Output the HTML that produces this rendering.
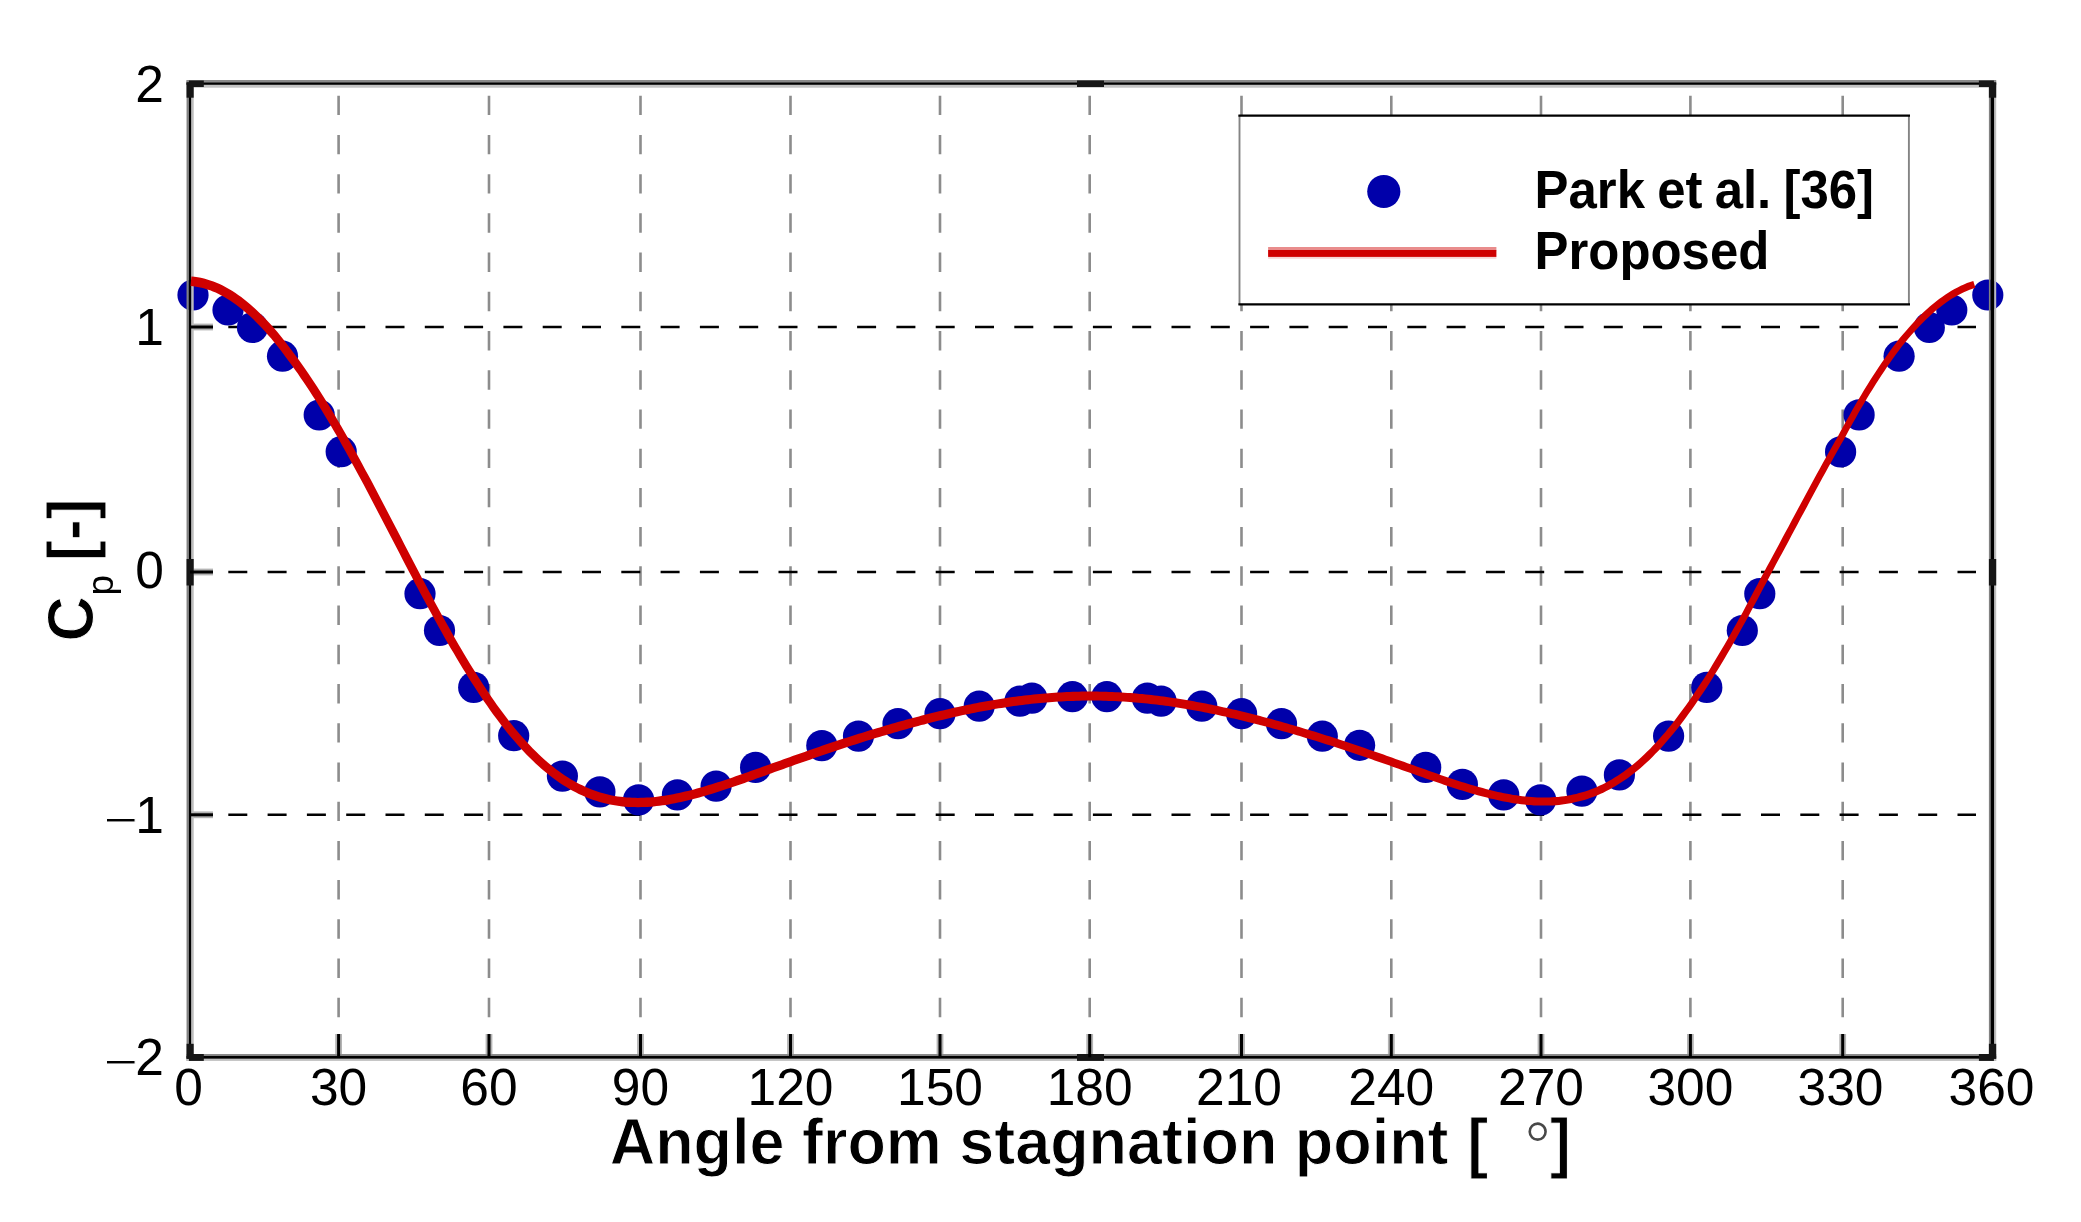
<!DOCTYPE html>
<html lang="en"><head><meta charset="utf-8"><title>Cp vs angle from stagnation point</title>
<style>html,body{margin:0;padding:0;background:#fff}svg{display:block;filter:blur(0.55px)}text{font-family:"Liberation Sans",sans-serif;fill:#000}.b{font-weight:bold}.t{stroke:#fff;stroke-width:1px}.deg{font-family:"DejaVu Sans Light","DejaVu Sans",sans-serif;font-weight:200}</style></head><body>
<svg width="2081" height="1222" viewBox="0 0 2081 1222">
<rect width="2081" height="1222" fill="#fff"/>
<g stroke="#8c8c8c" stroke-width="2.6" stroke-dasharray="19.4 19.82" fill="none">
<line x1="338.6" y1="95.7" x2="338.6" y2="1057.3"/>
<line x1="489.0" y1="95.7" x2="489.0" y2="1057.3"/>
<line x1="640.5" y1="95.7" x2="640.5" y2="1057.3"/>
<line x1="790.5" y1="95.7" x2="790.5" y2="1057.3"/>
<line x1="940.0" y1="95.7" x2="940.0" y2="1057.3"/>
<line x1="1089.7" y1="95.7" x2="1089.7" y2="1057.3"/>
<line x1="1241.5" y1="95.7" x2="1241.5" y2="1057.3"/>
<line x1="1391.3" y1="95.7" x2="1391.3" y2="1057.3"/>
<line x1="1541.0" y1="95.7" x2="1541.0" y2="1057.3"/>
<line x1="1690.4" y1="95.7" x2="1690.4" y2="1057.3"/>
<line x1="1842.7" y1="95.7" x2="1842.7" y2="1057.3"/>
</g>
<g stroke="#000" stroke-width="2.6" stroke-dasharray="19 20.3" fill="none">
<line x1="189" y1="327.0" x2="1976" y2="327.0"/>
<line x1="189" y1="572.0" x2="1976" y2="572.0"/>
<line x1="189" y1="814.8" x2="1976" y2="814.8"/>
</g>
<g fill="#0000aa">
<circle cx="193.0" cy="295.0" r="15.6"/>
<circle cx="228.0" cy="310.0" r="15.6"/>
<circle cx="252.5" cy="327.5" r="15.6"/>
<circle cx="282.5" cy="356.2" r="15.6"/>
<circle cx="319.2" cy="415.0" r="15.6"/>
<circle cx="341.2" cy="451.7" r="15.6"/>
<circle cx="420.0" cy="593.7" r="15.6"/>
<circle cx="439.5" cy="630.5" r="15.6"/>
<circle cx="473.7" cy="687.4" r="15.6"/>
<circle cx="513.7" cy="735.7" r="15.6"/>
<circle cx="562.4" cy="776.1" r="15.6"/>
<circle cx="599.9" cy="791.9" r="15.6"/>
<circle cx="638.6" cy="799.9" r="15.6"/>
<circle cx="677.4" cy="794.9" r="15.6"/>
<circle cx="716.1" cy="786.1" r="15.6"/>
<circle cx="755.6" cy="767.4" r="15.6"/>
<circle cx="821.8" cy="745.6" r="15.6"/>
<circle cx="858.5" cy="736.1" r="15.6"/>
<circle cx="898.0" cy="723.7" r="15.6"/>
<circle cx="940.0" cy="713.7" r="15.6"/>
<circle cx="979.2" cy="706.2" r="15.6"/>
<circle cx="1019.9" cy="701.2" r="15.6"/>
<circle cx="1031.9" cy="698.2" r="15.6"/>
<circle cx="1072.4" cy="696.7" r="15.6"/>
<circle cx="1106.9" cy="696.7" r="15.6"/>
<circle cx="1147.4" cy="698.2" r="15.6"/>
<circle cx="1161.1" cy="701.2" r="15.6"/>
<circle cx="1201.8" cy="706.2" r="15.6"/>
<circle cx="1241.6" cy="713.7" r="15.6"/>
<circle cx="1281.5" cy="723.7" r="15.6"/>
<circle cx="1322.3" cy="736.2" r="15.6"/>
<circle cx="1359.6" cy="745.3" r="15.6"/>
<circle cx="1425.7" cy="767.4" r="15.6"/>
<circle cx="1462.4" cy="784.4" r="15.6"/>
<circle cx="1503.7" cy="794.9" r="15.6"/>
<circle cx="1540.6" cy="799.9" r="15.6"/>
<circle cx="1581.9" cy="791.1" r="15.6"/>
<circle cx="1619.4" cy="774.9" r="15.6"/>
<circle cx="1668.6" cy="736.1" r="15.6"/>
<circle cx="1706.8" cy="687.4" r="15.6"/>
<circle cx="1742.3" cy="630.5" r="15.6"/>
<circle cx="1759.8" cy="593.7" r="15.6"/>
<circle cx="1840.6" cy="451.9" r="15.6"/>
<circle cx="1859.1" cy="414.9" r="15.6"/>
<circle cx="1899.1" cy="356.2" r="15.6"/>
<circle cx="1929.3" cy="327.5" r="15.6"/>
<circle cx="1951.8" cy="310.0" r="15.6"/>
<circle cx="1987.8" cy="295.0" r="15.6"/>
</g>
<g stroke="#b4b4b4" stroke-width="6.8" fill="none"><line x1="338.6" y1="1034.0" x2="338.6" y2="1057.3"/><line x1="489.0" y1="1034.0" x2="489.0" y2="1057.3"/><line x1="640.5" y1="1034.0" x2="640.5" y2="1057.3"/><line x1="790.5" y1="1034.0" x2="790.5" y2="1057.3"/><line x1="940.0" y1="1034.0" x2="940.0" y2="1057.3"/><line x1="1089.7" y1="1034.0" x2="1089.7" y2="1057.3"/><line x1="1241.5" y1="1034.0" x2="1241.5" y2="1057.3"/><line x1="1391.3" y1="1034.0" x2="1391.3" y2="1057.3"/><line x1="1541.0" y1="1034.0" x2="1541.0" y2="1057.3"/><line x1="1690.4" y1="1034.0" x2="1690.4" y2="1057.3"/><line x1="1842.7" y1="1034.0" x2="1842.7" y2="1057.3"/><line x1="190.0" y1="327.0" x2="213.0" y2="327.0"/><line x1="190.0" y1="572.0" x2="213.0" y2="572.0"/><line x1="190.0" y1="814.8" x2="213.0" y2="814.8"/></g>
<rect x="186.55" y="80.50" width="2.30" height="980.40" fill="#828282"/><rect x="191.10" y="80.50" width="2.60" height="980.40" fill="#bdbdbd"/><rect x="188.85" y="80.50" width="2.30" height="980.40" fill="#000"/><rect x="1988.90" y="80.50" width="1.80" height="980.40" fill="#828282"/><rect x="1994.10" y="80.50" width="2.10" height="980.40" fill="#bdbdbd"/><rect x="1990.60" y="80.50" width="3.50" height="980.40" fill="#000"/><rect x="186.50" y="80.00" width="1809.70" height="2.60" fill="#8a8a8a"/><rect x="186.50" y="84.70" width="1809.70" height="3.00" fill="#c4c4c4"/><rect x="186.50" y="82.40" width="1809.70" height="2.40" fill="#000"/><rect x="186.50" y="1054.00" width="1809.70" height="1.90" fill="#8a8a8a"/><rect x="186.50" y="1058.70" width="1809.70" height="2.20" fill="#c0c0c0"/><rect x="186.50" y="1055.90" width="1809.70" height="2.80" fill="#000"/><rect x="186.55" y="82.60" width="7.15" height="15.10" fill="#161616"/><rect x="186.55" y="1043.80" width="7.15" height="14.90" fill="#161616"/><rect x="1988.90" y="82.60" width="7.30" height="15.10" fill="#161616"/><rect x="1988.90" y="1043.80" width="7.30" height="14.90" fill="#161616"/><rect x="188.90" y="80.50" width="14.90" height="6.50" fill="#161616"/><rect x="188.90" y="1054.00" width="14.90" height="6.90" fill="#161616"/><rect x="1978.90" y="80.50" width="15.00" height="6.50" fill="#161616"/><rect x="1978.90" y="1054.00" width="15.00" height="6.90" fill="#161616"/><rect x="1077.00" y="80.50" width="27.00" height="6.50" fill="#161616"/><rect x="1077.00" y="1054.00" width="27.00" height="6.90" fill="#161616"/><rect x="186.55" y="559.00" width="7.15" height="26.50" fill="#161616"/><rect x="1988.90" y="559.00" width="7.30" height="26.50" fill="#161616"/>
<g stroke="#000" stroke-width="3" fill="none"><line x1="338.6" y1="1034.0" x2="338.6" y2="1057.3"/><line x1="489.0" y1="1034.0" x2="489.0" y2="1057.3"/><line x1="640.5" y1="1034.0" x2="640.5" y2="1057.3"/><line x1="790.5" y1="1034.0" x2="790.5" y2="1057.3"/><line x1="940.0" y1="1034.0" x2="940.0" y2="1057.3"/><line x1="1089.7" y1="1034.0" x2="1089.7" y2="1057.3"/><line x1="1241.5" y1="1034.0" x2="1241.5" y2="1057.3"/><line x1="1391.3" y1="1034.0" x2="1391.3" y2="1057.3"/><line x1="1541.0" y1="1034.0" x2="1541.0" y2="1057.3"/><line x1="1690.4" y1="1034.0" x2="1690.4" y2="1057.3"/><line x1="1842.7" y1="1034.0" x2="1842.7" y2="1057.3"/><line x1="190.0" y1="327.0" x2="213.0" y2="327.0"/><line x1="190.0" y1="572.0" x2="213.0" y2="572.0"/><line x1="190.0" y1="814.8" x2="213.0" y2="814.8"/></g>
<path d="M191.4 276.4 L194.5 276.8 L197.7 277.2 L200.8 277.8 L204.0 278.5 L207.1 279.4 L210.2 280.4 L213.4 281.5 L216.5 282.7 L219.6 284.1 L222.7 285.6 L225.8 287.2 L228.9 288.9 L232.0 290.8 L235.1 292.8 L238.2 294.9 L241.2 297.1 L244.3 299.5 L247.4 301.9 L250.4 304.5 L253.5 307.2 L256.5 310.0 L259.6 312.9 L262.6 315.9 L265.6 319.0 L268.7 322.3 L271.7 325.6 L274.8 329.1 L277.8 332.6 L280.8 336.3 L283.8 340.1 L286.9 343.9 L289.9 347.9 L292.9 352.0 L295.9 356.1 L298.9 360.1 L301.9 364.3 L304.9 368.6 L308.0 373.0 L311.0 377.4 L314.0 381.9 L317.0 386.5 L320.0 391.2 L323.0 396.0 L326.0 400.8 L329.1 405.8 L332.1 410.7 L335.1 415.8 L338.1 420.9 L341.1 426.1 L344.1 431.3 L347.1 436.6 L350.1 441.9 L353.1 447.3 L356.1 452.8 L359.1 458.3 L362.1 463.8 L365.1 469.4 L368.2 475.0 L371.2 480.6 L374.2 486.3 L377.2 492.0 L380.2 497.7 L383.2 503.4 L386.2 509.2 L389.2 515.0 L392.2 520.7 L395.2 526.5 L398.2 532.3 L401.2 538.1 L404.2 543.9 L407.2 549.7 L410.2 555.4 L413.2 561.2 L416.2 566.9 L419.2 572.7 L422.2 578.4 L425.2 584.0 L428.2 589.7 L431.2 595.3 L434.2 600.9 L437.2 606.4 L440.2 611.9 L443.2 617.4 L446.2 622.8 L449.2 628.1 L452.2 633.4 L455.2 638.7 L458.2 643.9 L461.2 649.0 L464.1 654.0 L467.1 659.0 L470.1 664.0 L473.1 668.8 L476.1 673.6 L479.1 678.3 L482.1 682.9 L485.1 687.5 L488.1 692.0 L491.1 696.4 L494.1 700.7 L497.0 704.9 L500.0 709.1 L503.0 713.1 L506.0 717.1 L509.0 720.9 L511.9 724.7 L514.9 728.4 L517.9 732.0 L520.9 735.4 L523.8 738.8 L526.8 742.1 L529.8 745.3 L532.8 748.4 L535.7 751.3 L538.7 754.2 L541.6 757.0 L544.6 759.7 L547.5 762.3 L550.5 764.8 L553.4 767.1 L556.4 769.4 L559.3 771.6 L562.3 773.7 L565.2 775.7 L568.1 777.6 L571.1 779.4 L574.0 781.1 L576.9 782.7 L579.8 784.2 L582.8 785.6 L585.7 787.0 L588.6 788.2 L591.5 789.4 L594.4 790.5 L597.3 791.5 L600.2 792.4 L603.1 793.3 L606.0 794.0 L608.9 794.7 L611.8 795.4 L614.7 795.9 L617.6 796.4 L620.5 796.8 L623.4 797.1 L626.3 797.4 L629.3 797.6 L632.2 797.7 L635.1 797.8 L638.0 797.9 L640.9 797.8 L643.8 797.7 L646.8 797.6 L649.7 797.4 L652.6 797.2 L655.5 796.9 L658.5 796.5 L661.4 796.1 L664.4 795.7 L667.3 795.2 L670.2 794.7 L673.2 794.2 L676.1 793.6 L679.1 793.0 L682.1 792.3 L685.0 791.6 L688.0 790.9 L690.9 790.2 L693.9 789.4 L696.9 788.6 L699.9 787.7 L702.8 786.9 L705.8 786.0 L708.8 785.1 L711.8 784.2 L714.7 783.3 L717.7 782.3 L720.7 781.4 L723.7 780.4 L726.7 779.4 L729.7 778.4 L732.6 777.4 L735.6 776.3 L738.6 775.3 L741.6 774.3 L744.6 773.2 L747.6 772.2 L750.6 771.1 L753.6 770.0 L756.6 769.0 L759.6 767.9 L762.6 766.8 L765.6 765.8 L768.6 764.7 L771.6 763.6 L774.6 762.5 L777.6 761.4 L780.6 760.4 L783.6 759.3 L786.6 758.2 L789.6 757.2 L792.6 756.1 L795.6 755.0 L798.6 754.0 L801.6 752.9 L804.6 751.9 L807.6 750.8 L810.6 749.8 L813.6 748.7 L816.6 747.7 L819.6 746.7 L822.6 745.6 L825.6 744.6 L828.6 743.6 L831.6 742.6 L834.7 741.6 L837.7 740.6 L840.7 739.6 L843.7 738.6 L846.7 737.7 L849.7 736.7 L852.7 735.7 L855.7 734.8 L858.7 733.8 L861.7 732.9 L864.7 731.9 L867.7 731.0 L870.7 730.1 L873.7 729.2 L876.8 728.3 L879.8 727.4 L882.8 726.5 L885.8 725.6 L888.8 724.7 L891.8 723.8 L894.8 723.0 L897.8 722.1 L900.8 721.3 L903.8 720.4 L906.9 719.6 L909.9 718.8 L912.9 718.0 L915.9 717.2 L918.9 716.4 L921.9 715.6 L924.9 714.8 L927.9 714.1 L930.9 713.3 L934.0 712.6 L937.0 711.8 L940.0 711.1 L943.0 710.4 L946.0 709.7 L949.0 709.0 L952.0 708.3 L955.0 707.6 L958.1 706.9 L961.1 706.3 L964.1 705.7 L967.1 705.0 L970.1 704.4 L973.1 703.8 L976.2 703.2 L979.2 702.6 L982.2 702.1 L985.2 701.5 L988.2 701.0 L991.2 700.4 L994.3 699.9 L997.3 699.4 L1000.3 698.9 L1003.3 698.5 L1006.3 698.0 L1009.4 697.6 L1012.4 697.1 L1015.4 696.7 L1018.4 696.3 L1021.4 695.9 L1024.5 695.6 L1027.5 695.2 L1030.5 694.9 L1033.5 694.5 L1036.6 694.2 L1039.6 694.0 L1042.6 693.7 L1045.6 693.4 L1048.7 693.2 L1051.7 693.0 L1054.7 692.7 L1057.7 692.6 L1060.8 692.4 L1063.8 692.2 L1066.8 692.1 L1069.8 692.0 L1072.9 691.8 L1075.9 691.8 L1078.9 691.7 L1081.9 691.6 L1085.0 691.6 L1088.0 691.6 L1091.0 691.6 L1094.0 691.6 L1097.1 691.6 L1100.1 691.7 L1103.1 691.7 L1106.1 691.8 L1109.2 691.9 L1112.2 692.0 L1115.2 692.2 L1118.2 692.3 L1121.3 692.5 L1124.3 692.7 L1127.3 692.9 L1130.3 693.1 L1133.4 693.3 L1136.4 693.6 L1139.4 693.9 L1142.4 694.1 L1145.5 694.4 L1148.5 694.8 L1151.5 695.1 L1154.5 695.4 L1157.5 695.8 L1160.6 696.2 L1163.6 696.6 L1166.6 697.0 L1169.6 697.4 L1172.7 697.9 L1175.7 698.3 L1178.7 698.8 L1181.7 699.3 L1184.7 699.8 L1187.8 700.3 L1190.8 700.8 L1193.8 701.3 L1196.8 701.9 L1199.8 702.4 L1202.8 703.0 L1205.9 703.6 L1208.9 704.2 L1211.9 704.8 L1214.9 705.4 L1217.9 706.1 L1220.9 706.7 L1224.0 707.4 L1227.0 708.1 L1230.0 708.7 L1233.0 709.4 L1236.0 710.1 L1239.0 710.8 L1242.0 711.6 L1245.1 712.3 L1248.1 713.0 L1251.1 713.8 L1254.1 714.6 L1257.1 715.3 L1260.1 716.1 L1263.1 716.9 L1266.1 717.7 L1269.2 718.5 L1272.2 719.3 L1275.2 720.2 L1278.2 721.0 L1281.2 721.8 L1284.2 722.7 L1287.2 723.5 L1290.2 724.4 L1293.2 725.3 L1296.3 726.2 L1299.3 727.1 L1302.3 728.0 L1305.3 728.9 L1308.3 729.8 L1311.3 730.7 L1314.3 731.6 L1317.3 732.5 L1320.3 733.5 L1323.3 734.4 L1326.3 735.4 L1329.4 736.3 L1332.4 737.3 L1335.4 738.3 L1338.4 739.3 L1341.4 740.2 L1344.4 741.2 L1347.4 742.2 L1350.4 743.2 L1353.4 744.2 L1356.4 745.3 L1359.4 746.3 L1362.4 747.3 L1365.4 748.3 L1368.4 749.4 L1371.5 750.4 L1374.5 751.5 L1377.5 752.5 L1380.5 753.6 L1383.5 754.6 L1386.5 755.7 L1389.5 756.7 L1392.5 757.8 L1395.5 758.9 L1398.5 760.0 L1401.5 761.0 L1404.5 762.1 L1407.5 763.2 L1410.5 764.3 L1413.5 765.3 L1416.5 766.4 L1419.5 767.5 L1422.5 768.5 L1425.5 769.6 L1428.5 770.7 L1431.5 771.7 L1434.5 772.8 L1437.5 773.8 L1440.5 774.9 L1443.5 775.9 L1446.5 776.9 L1449.5 777.9 L1452.5 778.9 L1455.5 779.9 L1458.6 780.9 L1461.6 781.9 L1464.6 782.8 L1467.6 783.8 L1470.7 784.7 L1473.7 785.6 L1476.7 786.5 L1479.8 787.3 L1482.8 788.1 L1485.8 788.9 L1488.9 789.7 L1491.9 790.5 L1494.9 791.2 L1498.0 791.9 L1501.0 792.6 L1504.0 793.2 L1507.1 793.8 L1510.1 794.3 L1513.1 794.9 L1516.2 795.3 L1519.2 795.8 L1522.2 796.2 L1525.2 796.5 L1528.2 796.8 L1531.3 797.1 L1534.3 797.3 L1537.3 797.4 L1540.3 797.5 L1543.3 797.6 L1546.3 797.5 L1549.3 797.5 L1552.3 797.3 L1555.3 797.1 L1558.3 796.9 L1561.3 796.5 L1564.2 796.2 L1567.2 795.7 L1570.2 795.2 L1573.2 794.6 L1576.2 793.9 L1579.1 793.1 L1582.1 792.3 L1585.1 791.4 L1588.0 790.4 L1591.0 789.3 L1594.0 788.2 L1596.9 786.9 L1599.9 785.6 L1602.9 784.2 L1605.8 782.7 L1608.8 781.1 L1611.7 779.4 L1614.7 777.6 L1617.7 775.7 L1620.6 773.8 L1623.6 771.7 L1626.5 769.6 L1629.5 767.3 L1632.4 764.9 L1635.4 762.5 L1638.3 759.9 L1641.3 757.3 L1644.2 754.5 L1647.2 751.6 L1650.2 748.7 L1653.1 745.6 L1656.1 742.5 L1659.0 739.2 L1662.0 735.8 L1665.0 732.4 L1667.9 728.8 L1670.9 725.2 L1673.9 721.4 L1676.9 717.6 L1679.8 713.6 L1682.8 709.6 L1685.8 705.5 L1688.8 701.3 L1691.8 697.0 L1694.7 692.6 L1697.7 688.1 L1700.7 683.6 L1703.7 678.9 L1706.7 674.2 L1709.7 669.4 L1712.6 664.6 L1715.6 659.6 L1718.6 654.6 L1721.6 649.6 L1724.6 644.4 L1727.6 639.2 L1730.6 633.9 L1733.6 628.6 L1736.6 623.3 L1739.6 617.8 L1742.6 612.4 L1745.6 606.8 L1748.5 601.3 L1751.5 595.7 L1754.5 590.0 L1757.5 584.4 L1760.5 578.6 L1763.6 572.9 L1766.7 567.1 L1769.9 561.3 L1773.0 555.6 L1776.1 549.8 L1779.2 543.9 L1782.3 538.1 L1785.4 532.3 L1788.6 526.5 L1791.7 520.6 L1794.8 514.8 L1797.9 509.0 L1801.0 503.2 L1804.1 497.5 L1807.2 491.7 L1810.3 485.9 L1813.4 480.2 L1816.5 474.6 L1819.6 468.9 L1822.7 463.3 L1825.8 457.7 L1828.9 452.2 L1832.0 446.7 L1835.1 441.2 L1838.1 435.9 L1841.0 430.6 L1843.9 425.3 L1846.8 420.1 L1849.7 414.9 L1852.5 409.8 L1855.4 404.7 L1858.3 399.8 L1861.2 394.9 L1864.1 390.0 L1867.1 385.3 L1870.0 380.6 L1872.9 376.0 L1875.9 371.5 L1878.8 367.1 L1881.7 362.8 L1884.7 358.5 L1887.6 354.4 L1890.5 350.3 L1893.5 346.3 L1896.4 342.4 L1899.4 338.6 L1902.4 335.0 L1905.5 331.4 L1908.5 327.9 L1911.6 324.5 L1914.6 321.3 L1917.6 318.1 L1920.7 315.1 L1923.7 312.1 L1926.8 309.3 L1929.8 306.6 L1932.9 304.0 L1936.0 301.5 L1939.1 299.1 L1942.1 296.9 L1945.2 294.7 L1948.3 292.7 L1951.4 290.8 L1954.5 289.0 L1957.6 287.4 L1960.8 285.8 L1963.9 284.4 L1967.0 283.1 L1970.2 282.0 L1973.3 281.0 L1975.4 287.8 L1972.5 288.7 L1969.6 289.8 L1966.7 290.9 L1963.8 292.2 L1960.8 293.7 L1957.9 295.2 L1955.0 296.9 L1952.1 298.6 L1949.1 300.5 L1946.2 302.6 L1943.2 304.7 L1940.3 307.0 L1937.3 309.3 L1934.4 311.8 L1931.4 314.4 L1928.5 317.2 L1925.5 320.0 L1922.5 322.9 L1919.6 326.0 L1916.6 329.2 L1913.6 332.5 L1910.7 335.8 L1907.7 339.3 L1904.7 342.9 L1901.8 346.6 L1898.9 350.4 L1896.0 354.3 L1893.1 358.3 L1890.2 362.4 L1887.3 366.6 L1884.4 370.9 L1881.5 375.2 L1878.6 379.7 L1875.7 384.2 L1872.8 388.9 L1869.9 393.6 L1867.0 398.3 L1864.2 403.2 L1861.3 408.1 L1858.4 413.1 L1855.6 418.2 L1852.7 423.3 L1849.8 428.5 L1847.0 433.8 L1844.1 439.2 L1841.0 444.6 L1837.9 450.0 L1834.8 455.5 L1831.8 461.0 L1828.7 466.6 L1825.6 472.2 L1822.5 477.8 L1819.4 483.5 L1816.3 489.2 L1813.2 494.9 L1810.1 500.7 L1807.1 506.5 L1804.0 512.3 L1800.8 518.1 L1797.7 523.9 L1794.6 529.7 L1791.5 535.5 L1788.4 541.4 L1785.3 547.2 L1782.2 553.0 L1779.0 558.8 L1775.9 564.6 L1772.8 570.4 L1769.7 576.2 L1766.7 581.9 L1763.7 587.6 L1760.7 593.3 L1757.7 598.9 L1754.7 604.5 L1751.7 610.1 L1748.7 615.7 L1745.7 621.2 L1742.7 626.6 L1739.7 632.0 L1736.7 637.4 L1733.7 642.7 L1730.7 647.9 L1727.7 653.1 L1724.7 658.2 L1721.7 663.3 L1718.7 668.2 L1715.7 673.1 L1712.7 678.0 L1709.7 682.7 L1706.7 687.4 L1703.7 692.0 L1700.6 696.6 L1697.6 701.0 L1694.6 705.4 L1691.6 709.7 L1688.6 713.8 L1685.6 717.9 L1682.6 722.0 L1679.6 725.9 L1676.6 729.7 L1673.5 733.4 L1670.5 737.1 L1667.5 740.6 L1664.5 744.1 L1661.5 747.4 L1658.5 750.7 L1655.4 753.8 L1652.4 756.9 L1649.4 759.9 L1646.3 762.7 L1643.3 765.5 L1640.3 768.2 L1637.2 770.7 L1634.1 773.2 L1631.1 775.6 L1628.0 777.9 L1624.9 780.1 L1621.8 782.1 L1618.7 784.1 L1615.6 786.0 L1612.5 787.8 L1609.4 789.5 L1606.3 791.1 L1603.2 792.7 L1600.1 794.1 L1596.9 795.4 L1593.8 796.7 L1590.6 797.8 L1587.5 798.9 L1584.3 799.9 L1581.2 800.8 L1578.0 801.6 L1574.9 802.3 L1571.7 803.0 L1568.6 803.6 L1565.4 804.1 L1562.2 804.5 L1559.1 804.9 L1555.9 805.2 L1552.7 805.4 L1549.6 805.5 L1546.4 805.6 L1543.3 805.6 L1540.1 805.6 L1537.0 805.5 L1533.8 805.4 L1530.7 805.1 L1527.5 804.9 L1524.4 804.6 L1521.2 804.2 L1518.1 803.8 L1514.9 803.4 L1511.8 802.9 L1508.7 802.3 L1505.6 801.8 L1502.4 801.2 L1499.3 800.5 L1496.2 799.8 L1493.1 799.1 L1490.0 798.4 L1486.9 797.6 L1483.8 796.8 L1480.7 796.0 L1477.6 795.2 L1474.5 794.3 L1471.4 793.4 L1468.3 792.5 L1465.3 791.6 L1462.2 790.6 L1459.1 789.7 L1456.1 788.7 L1453.0 787.7 L1450.0 786.7 L1446.9 785.7 L1443.9 784.7 L1440.8 783.6 L1437.8 782.6 L1434.8 781.6 L1431.8 780.5 L1428.8 779.5 L1425.7 778.4 L1422.7 777.3 L1419.7 776.3 L1416.7 775.2 L1413.7 774.1 L1410.7 773.1 L1407.7 772.0 L1404.7 770.9 L1401.7 769.9 L1398.7 768.8 L1395.7 767.7 L1392.7 766.7 L1389.7 765.6 L1386.7 764.6 L1383.7 763.5 L1380.7 762.4 L1377.7 761.4 L1374.7 760.4 L1371.7 759.3 L1368.7 758.3 L1365.7 757.3 L1362.7 756.2 L1359.7 755.2 L1356.7 754.2 L1353.8 753.2 L1350.8 752.2 L1347.8 751.2 L1344.8 750.2 L1341.8 749.2 L1338.8 748.2 L1335.8 747.2 L1332.8 746.3 L1329.8 745.3 L1326.8 744.4 L1323.8 743.4 L1320.8 742.5 L1317.8 741.5 L1314.8 740.6 L1311.8 739.7 L1308.8 738.8 L1305.8 737.9 L1302.8 737.0 L1299.9 736.1 L1296.9 735.2 L1293.9 734.3 L1290.9 733.5 L1287.9 732.6 L1284.9 731.7 L1281.9 730.9 L1278.9 730.1 L1275.9 729.2 L1272.9 728.4 L1269.9 727.6 L1266.9 726.8 L1263.9 726.0 L1261.0 725.2 L1258.0 724.4 L1255.0 723.7 L1252.0 722.9 L1249.0 722.2 L1246.0 721.4 L1243.0 720.7 L1240.0 720.0 L1237.0 719.3 L1234.1 718.6 L1231.1 717.9 L1228.1 717.2 L1225.1 716.5 L1222.1 715.9 L1219.1 715.2 L1216.1 714.6 L1213.1 714.0 L1210.2 713.4 L1207.2 712.8 L1204.2 712.2 L1201.2 711.6 L1198.2 711.0 L1195.2 710.5 L1192.2 709.9 L1189.3 709.4 L1186.3 708.9 L1183.3 708.4 L1180.3 707.9 L1177.3 707.5 L1174.4 707.0 L1171.4 706.6 L1168.4 706.1 L1165.4 705.7 L1162.4 705.3 L1159.5 705.0 L1156.5 704.6 L1153.5 704.2 L1150.5 703.9 L1147.5 703.6 L1144.6 703.3 L1141.6 703.0 L1138.6 702.7 L1135.6 702.5 L1132.7 702.2 L1129.7 702.0 L1126.7 701.8 L1123.7 701.6 L1120.7 701.4 L1117.8 701.3 L1114.8 701.1 L1111.8 701.0 L1108.8 700.9 L1105.9 700.8 L1102.9 700.7 L1099.9 700.6 L1096.9 700.6 L1094.0 700.6 L1091.0 700.6 L1088.0 700.6 L1085.0 700.6 L1082.1 700.6 L1079.1 700.7 L1076.1 700.8 L1073.1 700.9 L1070.2 701.0 L1067.2 701.1 L1064.2 701.2 L1061.2 701.4 L1058.3 701.6 L1055.3 701.7 L1052.3 701.9 L1049.4 702.2 L1046.4 702.4 L1043.4 702.7 L1040.4 702.9 L1037.4 703.2 L1034.5 703.5 L1031.5 703.8 L1028.5 704.2 L1025.5 704.5 L1022.6 704.9 L1019.6 705.3 L1016.6 705.7 L1013.6 706.1 L1010.7 706.5 L1007.7 706.9 L1004.7 707.4 L1001.7 707.9 L998.7 708.3 L995.8 708.8 L992.8 709.3 L989.8 709.9 L986.8 710.4 L983.8 710.9 L980.9 711.5 L977.9 712.1 L974.9 712.7 L971.9 713.3 L968.9 713.9 L966.0 714.5 L963.0 715.1 L960.0 715.8 L957.0 716.4 L954.0 717.1 L951.0 717.8 L948.1 718.5 L945.1 719.2 L942.1 719.9 L939.1 720.6 L936.1 721.3 L933.1 722.1 L930.1 722.8 L927.2 723.6 L924.2 724.4 L921.2 725.1 L918.2 725.9 L915.2 726.7 L912.2 727.5 L909.2 728.3 L906.3 729.2 L903.3 730.0 L900.3 730.8 L897.3 731.7 L894.3 732.5 L891.3 733.4 L888.3 734.3 L885.3 735.2 L882.4 736.0 L879.4 736.9 L876.4 737.8 L873.4 738.8 L870.4 739.7 L867.4 740.6 L864.4 741.5 L861.4 742.5 L858.4 743.4 L855.4 744.4 L852.5 745.3 L849.5 746.3 L846.5 747.3 L843.5 748.2 L840.5 749.2 L837.5 750.2 L834.5 751.2 L831.5 752.2 L828.5 753.2 L825.5 754.2 L822.5 755.2 L819.6 756.3 L816.6 757.3 L813.6 758.3 L810.6 759.4 L807.6 760.4 L804.6 761.5 L801.6 762.5 L798.6 763.6 L795.6 764.6 L792.6 765.7 L789.6 766.8 L786.6 767.8 L783.6 768.9 L780.6 770.0 L777.6 771.1 L774.6 772.1 L771.6 773.2 L768.6 774.3 L765.6 775.4 L762.6 776.5 L759.6 777.5 L756.6 778.6 L753.6 779.7 L750.6 780.7 L747.6 781.8 L744.6 782.9 L741.6 783.9 L738.6 785.0 L735.6 786.0 L732.6 787.0 L729.6 788.0 L726.5 789.1 L723.5 790.0 L720.5 791.0 L717.5 792.0 L714.5 792.9 L711.4 793.9 L708.4 794.8 L705.4 795.7 L702.4 796.6 L699.3 797.4 L696.3 798.3 L693.3 799.1 L690.2 799.8 L687.2 800.6 L684.1 801.3 L681.1 802.0 L678.0 802.6 L675.0 803.3 L671.9 803.8 L668.8 804.4 L665.8 804.9 L662.7 805.3 L659.6 805.7 L656.5 806.1 L653.5 806.4 L650.4 806.7 L647.3 806.9 L644.2 807.0 L641.1 807.1 L638.0 807.2 L634.9 807.1 L631.8 807.0 L628.7 806.9 L625.6 806.7 L622.5 806.4 L619.3 806.0 L616.2 805.6 L613.1 805.0 L610.0 804.4 L606.9 803.8 L603.7 803.0 L600.6 802.2 L597.5 801.3 L594.4 800.3 L591.3 799.2 L588.1 798.0 L585.0 796.7 L581.9 795.3 L578.8 793.9 L575.7 792.3 L572.6 790.7 L569.5 789.0 L566.4 787.1 L563.3 785.2 L560.2 783.2 L557.1 781.1 L554.0 778.8 L551.0 776.5 L547.9 774.1 L544.8 771.6 L541.7 769.0 L538.7 766.3 L535.6 763.5 L532.6 760.6 L529.5 757.6 L526.4 754.5 L523.4 751.3 L520.4 748.0 L517.3 744.6 L514.3 741.1 L511.2 737.6 L508.2 733.9 L505.1 730.1 L502.1 726.3 L499.1 722.3 L496.1 718.3 L493.0 714.2 L490.0 709.9 L487.0 705.6 L483.9 701.2 L480.9 696.8 L477.9 692.2 L474.9 687.6 L471.9 682.9 L468.8 678.2 L465.8 673.3 L462.8 668.4 L459.8 663.5 L456.8 658.4 L453.8 653.3 L450.7 648.2 L447.7 642.9 L444.7 637.7 L441.7 632.3 L438.7 626.9 L435.7 621.5 L432.7 616.0 L429.7 610.5 L426.7 604.9 L423.6 599.3 L420.6 593.7 L417.6 588.0 L414.6 582.4 L411.6 576.6 L408.6 570.9 L405.6 565.2 L402.6 559.4 L399.6 553.6 L396.6 547.8 L393.6 542.1 L390.6 536.3 L387.6 530.5 L384.6 524.7 L381.6 518.9 L378.6 513.2 L375.6 507.4 L372.6 501.7 L369.6 496.0 L366.6 490.3 L363.6 484.6 L360.6 479.0 L357.6 473.4 L354.6 467.9 L351.6 462.4 L348.6 456.9 L345.6 451.5 L342.6 446.2 L339.6 440.8 L336.6 435.6 L333.6 430.4 L330.6 425.3 L327.6 420.2 L324.6 415.2 L321.6 410.3 L318.7 405.4 L315.7 400.6 L312.7 395.9 L309.7 391.3 L306.7 386.7 L303.7 382.3 L300.7 377.9 L297.8 373.6 L294.8 369.4 L291.8 365.3 L288.8 361.3 L285.8 357.2 L282.9 353.2 L279.9 349.3 L276.9 345.6 L274.0 341.9 L271.0 338.3 L268.0 334.9 L265.1 331.6 L262.1 328.3 L259.2 325.2 L256.2 322.2 L253.3 319.3 L250.4 316.6 L247.4 313.9 L244.5 311.4 L241.6 309.0 L238.7 306.7 L235.8 304.5 L232.9 302.4 L230.0 300.5 L227.1 298.7 L224.3 297.0 L221.4 295.4 L218.6 294.0 L215.7 292.6 L212.9 291.4 L210.1 290.3 L207.3 289.4 L204.5 288.5 L201.7 287.8 L198.9 287.2 L196.1 286.7 L193.3 286.3 L190.5 286.0Z" fill="#cf0000"/>
<rect x="1239.5" y="115.5" width="669.4" height="189" fill="#fff"/>
<g stroke="#848484" stroke-width="1.9"><line x1="1239.5" y1="115" x2="1239.5" y2="305"/><line x1="1908.9" y1="115" x2="1908.9" y2="305"/></g>
<g stroke="#000" stroke-width="2.1"><line x1="1238.4" y1="115.6" x2="1910" y2="115.6"/><line x1="1238.4" y1="304.4" x2="1910" y2="304.4"/></g>
<circle cx="1383.8" cy="191.5" r="16.6" fill="#0000aa"/>
<rect x="1268.1" y="247" width="228.3" height="3.4" fill="#cf0000" fill-opacity="0.45"/><rect x="1268.1" y="256.6" width="228.3" height="2.2" fill="#cf0000" fill-opacity="0.16"/><rect x="1268.1" y="250" width="228.3" height="6.9" fill="#cf0000"/>
<text class="b" transform="translate(1534.6 207.5) scale(1 1.05)" font-size="50.9" word-spacing="-1.9">Park et al. [36]</text>
<text class="b" transform="translate(1534.6 269.4) scale(1 1.05)" font-size="50.9">Proposed</text>
<g font-size="51.5" text-anchor="middle">
<text x="188.7" y="1105">0</text>
<text x="338.6" y="1105">30</text>
<text x="489.0" y="1105">60</text>
<text x="640.5" y="1105">90</text>
<text x="790.5" y="1105">120</text>
<text x="940.0" y="1105">150</text>
<text x="1089.7" y="1105">180</text>
<text x="1239.0" y="1105">210</text>
<text x="1391.3" y="1105">240</text>
<text x="1541.0" y="1105">270</text>
<text x="1690.4" y="1105">300</text>
<text x="1840.5" y="1105">330</text>
<text x="1991.5" y="1105">360</text>
</g>
<g font-size="51.5" text-anchor="end">
<text x="163.8" y="101.8">2</text>
<text x="163.8" y="345.0">1</text>
<text x="163.8" y="587.5">0</text>
<text x="163.8" y="832.8"><tspan class="t">–</tspan>1</text>
<text x="163.8" y="1075.3"><tspan class="t">–</tspan>2</text>
</g>
<text class="b t" transform="translate(609.7 1164) scale(1 1.040)" font-size="62.92">Angle from stagnation point</text>
<text class="b t" transform="translate(1467.2 1165) scale(1 1.06)" font-size="62.92">[</text>
<text class="deg" x="1520.4" y="1171.8" font-size="68.6" fill="#484848" style="fill:#484848">°</text>
<text class="b t" transform="translate(1549.9 1165) scale(1 1.06)" font-size="62.92">]</text>
<g transform="rotate(-90)">
<text class="b t" transform="translate(-641.4 92.6) scale(1 1.040)" font-size="62.8">C</text>
<text x="-595.4" y="112.8" font-size="37">p</text>
<text class="b t" transform="translate(-561.2 92.6) scale(1 1.040)" font-size="62.8">[-]</text>
</g>
</svg></body></html>
